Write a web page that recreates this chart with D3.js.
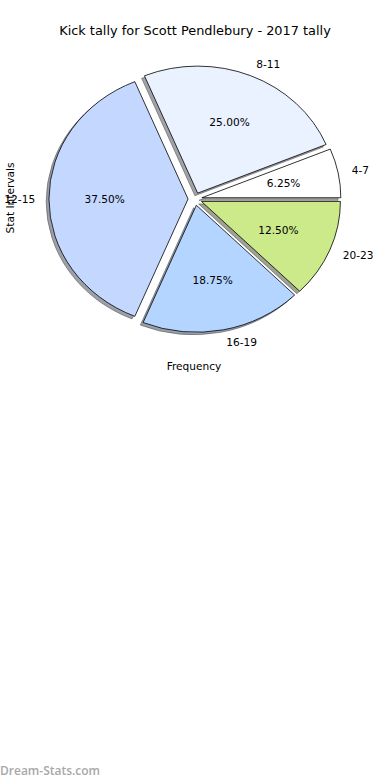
<!DOCTYPE html>
<html>
<head>
<meta charset="utf-8">
<script src="https://cdn.jsdelivr.net/npm/d3@7"></script>
<style>
  html, body { margin: 0; padding: 0; background: #fff; }
  svg { display: block; font-family: "DejaVu Sans", sans-serif; }
</style>
</head>
<body>
<div id="chart"></div>
<script>
// chart values
const intervals = ["4-7", "8-11", "12-15", "16-19", "20-23"];
const frequencies = [1, 4, 6, 3, 2];
const sliceColors = ["#ffffff", "#eaf1ff", "#c4d8ff", "#b4d5ff", "#cdea8a"];
const explode = [0.05, 0.05, 0.05, 0.05, 0.05];

const width = 390, height = 780;
const cx = 195, cy = 199, rx = 139, ry = 127;

const svg = d3.select("#chart").append("svg")
  .attr("width", width)
  .attr("height", height);

// pie is drawn in unit "data" space, then stretched to an ellipse
const x = d3.scaleLinear().domain([-1, 1]).range([cx - rx, cx + rx]);
const y = d3.scaleLinear().domain([-1, 1]).range([cy + ry, cy - ry]);

// matplotlib style: start at 3 o'clock, go counter-clockwise
const pie = d3.pie().sort(null)
  .startAngle(Math.PI / 2)
  .endAngle(Math.PI / 2 - 2 * Math.PI);

const arcs = pie(frequencies);
const total = d3.sum(frequencies);
const arc = d3.arc().innerRadius(0).outerRadius(1);

const mid = d => (d.startAngle + d.endAngle) / 2;
// direction in data space (y up)
const dirX = d => Math.sin(mid(d));
const dirY = d => Math.cos(mid(d));

const sx = x(1) - x(0), sy = y(0) - y(1);

function wedgeTransform(d, dx, dy) {
  const ox = explode[d.index] * dirX(d) + dx;
  const oy = explode[d.index] * dirY(d) + dy;
  return `translate(${x(ox)},${y(oy)}) scale(${sx},${sy})`;
}

const shade = d => {
  const c = d3.rgb(sliceColors[d.index]);
  return d3.rgb(c.r * 0.3, c.g * 0.3, c.b * 0.3);
};

// shadows under all wedges
svg.append("g").selectAll("path")
  .data(arcs)
  .join("path")
  .attr("d", arc)
  .attr("transform", d => wedgeTransform(d, -0.02, -0.02))
  .attr("vector-effect", "non-scaling-stroke")
  .attr("fill", shade)
  .attr("fill-opacity", 0.5)
  .attr("stroke", shade)
  .attr("stroke-opacity", 0.5)
  .attr("stroke-width", 1);

// wedges
svg.append("g").selectAll("path")
  .data(arcs)
  .join("path")
  .attr("d", arc)
  .attr("transform", d => wedgeTransform(d, 0, 0))
  .attr("vector-effect", "non-scaling-stroke")
  .attr("fill", d => sliceColors[d.index])
  .attr("stroke", "#000")
  .attr("stroke-width", 0.8);

// category labels at 1.1 radius
svg.append("g").selectAll("text")
  .data(arcs)
  .join("text")
  .attr("x", d => x(explode[d.index] * dirX(d) + 1.1 * dirX(d)))
  .attr("y", d => y(explode[d.index] * dirY(d) + 1.1 * dirY(d)))
  .attr("dy", "0.35em")
  .attr("text-anchor", d => dirX(d) > 0 ? "start" : "end")
  .style("font-size", "10.6px")
  .attr("fill", "#000")
  .text(d => intervals[d.index]);

// percentages at 0.6 radius
const pct = d3.format(".2f");
svg.append("g").selectAll("text")
  .data(arcs)
  .join("text")
  .attr("x", d => x(explode[d.index] * dirX(d) + 0.6 * dirX(d)))
  .attr("y", d => y(explode[d.index] * dirY(d) + 0.6 * dirY(d)))
  .attr("dy", "0.35em")
  .attr("text-anchor", "middle")
  .style("font-size", "10.6px")
  .attr("fill", "#000")
  .text(d => pct(d.data / total * 100) + "%");

// title and axis labels
svg.append("text")
  .attr("x", cx)
  .attr("y", 30)
  .attr("dy", "0.35em")
  .attr("text-anchor", "middle")
  .style("font-size", "12.9px")
  .text("Kick tally for Scott Pendlebury - 2017 tally");

svg.append("text")
  .attr("x", 194)
  .attr("y", 366)
  .attr("dy", "0.35em")
  .attr("text-anchor", "middle")
  .style("font-size", "10.6px")
  .text("Frequency");

svg.append("text")
  .attr("transform", "translate(10,198) rotate(-90)")
  .attr("dy", "0.35em")
  .attr("text-anchor", "middle")
  .style("font-size", "10.6px")
  .text("Stat Intervals");

// watermark
svg.append("text")
  .attr("x", 0)
  .attr("y", 775)
  .style("font-family", "'Open Sans', sans-serif")
  .style("font-size", "12px")
  .style("font-weight", "600")
  .attr("fill", "#a8a8a8")
  .text("Dream-Stats.com");
</script>
</body>
</html>
